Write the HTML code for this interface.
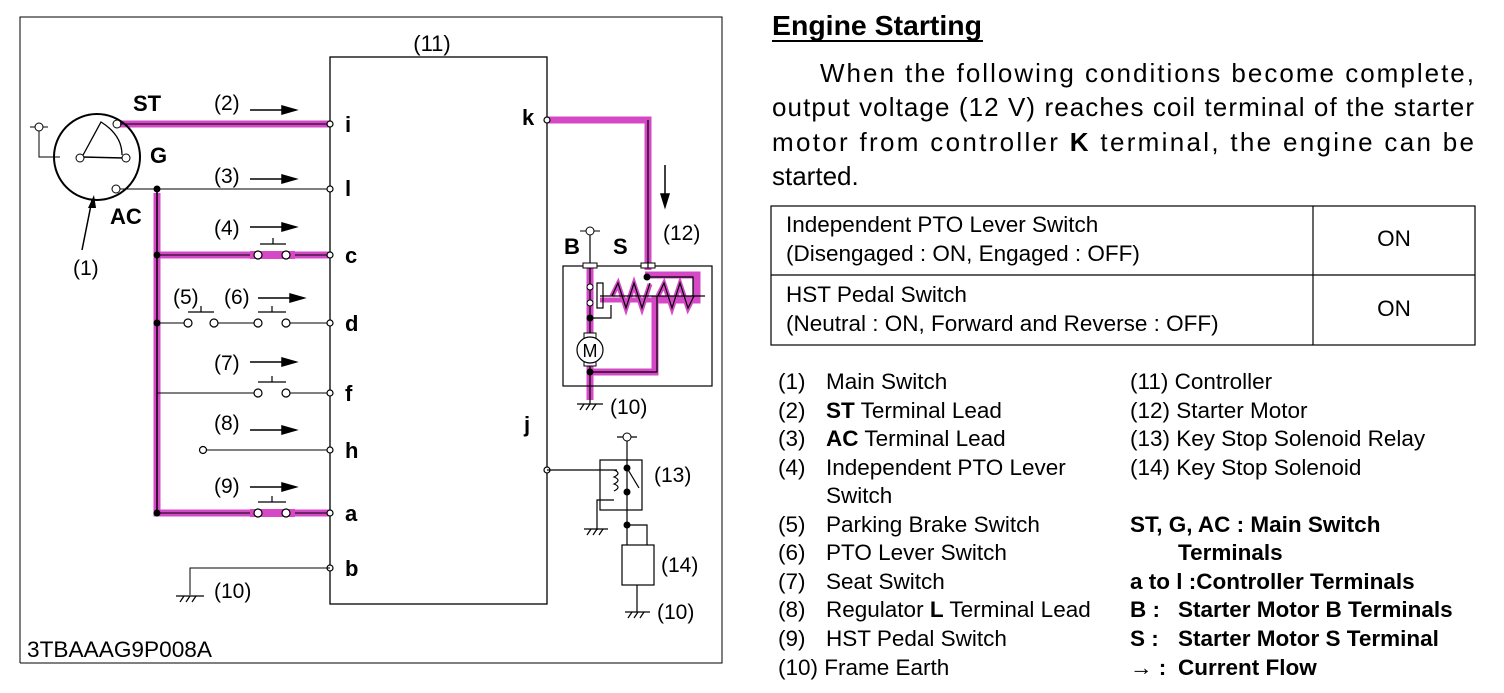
<!DOCTYPE html>
<html><head><meta charset="utf-8"><style>
body{margin:0;background:#fff;}
svg{display:block;font-family:"Liberation Sans",Arial,sans-serif;}
</style></head><body>
<svg width="1504" height="693" viewBox="0 0 1504 693" xmlns="http://www.w3.org/2000/svg">
<rect x="0" y="0" width="1504" height="693" fill="#fff"/>
<polyline points="20,663 20,17 722,17 722,663 20,663" fill="none" stroke="#000" stroke-width="1"/>
<g stroke="#d548c6" stroke-width="7" fill="none" stroke-linejoin="miter">
<polyline points="120,124 330,124"/>
<polyline points="157,193 157,513 330,513"/>
<polyline points="157,255 330,255"/>
<polyline points="547,120 648,120 648,270"/>
<polyline points="590,268 590,400"/>
<polyline points="645,275 697,275 697,300 655,300 655,372 592,372"/>
<polyline points="600,300 690,300" stroke-width="5"/>
</g>
<g fill="none" stroke="#d548c6" stroke-width="5">
<polyline points="612,296 618,284 626,308 634,284 642,308 650,284"/>
<polyline points="658,296 664,284 672,308 680,284 688,308 694,296"/>
</g>
<rect x="330" y="57" width="217" height="547" fill="none" stroke="#000" stroke-width="1.3"/>
<text x="432" y="51" font-size="22" text-anchor="middle">(11)</text>
<circle cx="97" cy="157" r="43" fill="none" stroke="#000" stroke-width="2"/>
<polyline points="39,127 39,157 60,157" fill="none" stroke="#000"/>
<line x1="30" y1="127" x2="48" y2="127" stroke="#000"/>
<circle cx="39" cy="127" r="4" fill="#fff" stroke="#000"/>
<path d="M82,157 L101,122 Q122,135 122,155" fill="none" stroke="#000" stroke-width="1.3"/>
<line x1="82" y1="157" x2="124" y2="158" stroke="#000" stroke-width="1.5"/>
<circle cx="80" cy="158" r="4" fill="#fff" stroke="#000"/>
<circle cx="126" cy="158" r="4" fill="#fff" stroke="#000"/>
<circle cx="117" cy="124" r="4" fill="#fff" stroke="#000"/>
<circle cx="116" cy="189" r="4" fill="#fff" stroke="#000"/>
<line x1="120" y1="124" x2="330" y2="124" stroke="#000"/>
<line x1="120" y1="189" x2="330" y2="189" stroke="#000"/>
<line x1="157" y1="189" x2="157" y2="513" stroke="#000" stroke-width="1.5"/>
<line x1="157" y1="255" x2="330" y2="255" stroke="#000"/>
<line x1="157" y1="323" x2="330" y2="323" stroke="#000"/>
<line x1="157" y1="393" x2="330" y2="393" stroke="#000"/>
<line x1="203" y1="450" x2="330" y2="450" stroke="#000"/>
<line x1="157" y1="513" x2="330" y2="513" stroke="#000"/>
<g fill="#000"><circle cx="157" cy="189" r="3.5"/><circle cx="157" cy="255" r="3.5"/><circle cx="157" cy="323" r="3.5"/><circle cx="157" cy="513" r="3.5"/></g>
<line x1="82" y1="250" x2="92" y2="200" stroke="#000" stroke-width="1.5"/>
<polygon points="94,195 88,208 96,208" fill="#000"/>
<g stroke="#000" fill="#fff" stroke-width="1.2">
<rect x="250" y="251" width="45" height="8" fill="#d548c6" stroke="none"/>
<rect x="250" y="509" width="45" height="8" fill="#d548c6" stroke="none"/>
<line x1="260" y1="244" x2="286" y2="244"/><line x1="273" y1="244" x2="273" y2="238"/>
<line x1="188" y1="312" x2="214" y2="312"/><line x1="201" y1="312" x2="201" y2="306"/>
<line x1="258" y1="312" x2="286" y2="312"/><line x1="272" y1="312" x2="272" y2="306"/>
<line x1="258" y1="382" x2="286" y2="382"/><line x1="272" y1="382" x2="272" y2="376"/>
<line x1="258" y1="502" x2="286" y2="502"/><line x1="272" y1="502" x2="272" y2="496"/>
<rect x="190" y="320" width="22" height="6" fill="#fff" stroke="none"/>
<rect x="260" y="320" width="24" height="6" fill="#fff" stroke="none"/>
<rect x="260" y="390" width="24" height="6" fill="#fff" stroke="none"/>
<circle cx="258" cy="255" r="4"/><circle cx="286" cy="255" r="4"/>
<circle cx="188" cy="323" r="4"/><circle cx="214" cy="323" r="4"/>
<circle cx="258" cy="323" r="4"/><circle cx="286" cy="323" r="4"/>
<circle cx="258" cy="393" r="4"/><circle cx="286" cy="393" r="4"/>
<circle cx="258" cy="513" r="4"/><circle cx="286" cy="513" r="4"/>
<circle cx="203" cy="450" r="3.5"/>
<circle cx="330" cy="124" r="3"/><circle cx="330" cy="189" r="3"/><circle cx="330" cy="255" r="3"/><circle cx="330" cy="323" r="3"/><circle cx="330" cy="393" r="3"/><circle cx="330" cy="450" r="3"/><circle cx="330" cy="513" r="3"/><circle cx="330" cy="568" r="3"/>
<circle cx="547" cy="120" r="3"/><circle cx="547" cy="470" r="3"/>
</g>
<g stroke="#000" stroke-width="1.5" fill="#000">
<line x1="250" y1="110" x2="285" y2="110"/><polygon points="296,110 282,106 282,114"/>
<line x1="250" y1="179" x2="285" y2="179"/><polygon points="296,179 282,175 282,183"/>
<line x1="250" y1="227" x2="285" y2="227"/><polygon points="296,227 282,223 282,231"/>
<line x1="258" y1="298" x2="293" y2="298"/><polygon points="304,298 290,294 290,302"/>
<line x1="250" y1="362" x2="285" y2="362"/><polygon points="296,362 282,358 282,366"/>
<line x1="250" y1="430" x2="285" y2="430"/><polygon points="296,430 282,426 282,434"/>
<line x1="250" y1="487" x2="285" y2="487"/><polygon points="296,487 282,483 282,491"/>
<line x1="665" y1="165" x2="665" y2="196"/><polygon points="665,207 661,194 669,194"/>
</g>
<g font-size="21">
<text x="214" y="110">(2)</text><text x="214" y="183">(3)</text><text x="214" y="235">(4)</text>
<text x="173" y="304">(5)</text><text x="224" y="304">(6)</text><text x="214" y="370">(7)</text>
<text x="214" y="430">(8)</text><text x="214" y="493">(9)</text><text x="73" y="275">(1)</text>
<text x="214" y="598">(10)</text><text x="610" y="414">(10)</text><text x="663" y="240">(12)</text>
<text x="654" y="482">(13)</text><text x="661" y="572">(14)</text><text x="657" y="619">(10)</text>
</g>
<text x="27" y="657" font-size="22" textLength="185" lengthAdjust="spacingAndGlyphs">3TBAAAG9P008A</text>
<g font-size="22" font-weight="bold">
<text x="133" y="111">ST</text><text x="150" y="163">G</text><text x="110" y="224">AC</text>
<text x="345" y="132">i</text><text x="345" y="196">l</text><text x="345" y="263">c</text><text x="345" y="331">d</text>
<text x="345" y="401">f</text><text x="345" y="458">h</text><text x="345" y="521">a</text><text x="345" y="576">b</text>
<text x="522" y="125">k</text><text x="524" y="432">j</text>
<text x="564" y="254">B</text><text x="613" y="254">S</text>
</g>
<polyline points="330,568 190,568 190,595" fill="none" stroke="#000"/>
<g stroke="#000" stroke-width="1.2">
<line x1="176" y1="596" x2="204" y2="596"/><line x1="180" y1="602" x2="184" y2="596"/><line x1="186" y1="602" x2="190" y2="596"/><line x1="192" y1="602" x2="196" y2="596"/>
<line x1="577" y1="404" x2="603" y2="404"/><line x1="580" y1="410" x2="584" y2="404"/><line x1="586" y1="410" x2="590" y2="404"/><line x1="592" y1="410" x2="596" y2="404"/>
<line x1="584" y1="529" x2="608" y2="529"/><line x1="587" y1="535" x2="591" y2="529"/><line x1="593" y1="535" x2="597" y2="529"/><line x1="599" y1="535" x2="603" y2="529"/>
<line x1="625" y1="612" x2="650" y2="612"/><line x1="628" y1="618" x2="632" y2="612"/><line x1="634" y1="618" x2="638" y2="612"/><line x1="640" y1="618" x2="644" y2="612"/>
</g>
<rect x="563" y="266" width="149" height="120" fill="none" stroke="#000" stroke-width="1.2"/>
<line x1="590" y1="231" x2="590" y2="404" stroke="#000" stroke-width="1.2"/>
<line x1="580" y1="231" x2="600" y2="231" stroke="#000"/>
<circle cx="590" cy="231" r="4" fill="#fff" stroke="#000"/>
<rect x="583" y="263" width="14" height="5" fill="#fff" stroke="#000"/>
<rect x="641" y="263" width="14" height="5" fill="#fff" stroke="#000"/>
<g fill="none" stroke="#000" stroke-width="1.2">
<polyline points="648,120 648,268"/>
<polyline points="647,277 693,277 693,296"/>
<line x1="600" y1="296" x2="705" y2="296"/>
<polyline points="612,296 618,283 626,308 634,283 642,308 650,283"/>
<polyline points="658,296 664,283 672,308 680,283 688,308 694,296"/>
<polyline points="657,296 657,372 592,372"/>
<rect x="597" y="283" width="6" height="25"/>
<polyline points="590,318 611,318 611,305"/>
</g>
<circle cx="590" cy="287" r="3" fill="#fff" stroke="#000"/>
<circle cx="590" cy="303" r="3" fill="#fff" stroke="#000"/>
<circle cx="590" cy="318" r="3.5" fill="#000"/>
<circle cx="647" cy="277" r="3.5" fill="#000"/>
<circle cx="590" cy="372" r="3.5" fill="#000"/>
<rect x="584" y="333" width="12" height="5" fill="#fff" stroke="#000"/>
<rect x="584" y="361" width="12" height="5" fill="#fff" stroke="#000"/>
<circle cx="590" cy="350" r="13" fill="#fff" stroke="#000" stroke-width="1.2"/>
<text x="590" y="357" font-size="18" text-anchor="middle">M</text>
<g fill="none" stroke="#000" stroke-width="1.2">
<polyline points="547,470 617,470"/>
<rect x="600" y="460" width="42" height="50"/>
<line x1="627" y1="437" x2="627" y2="545"/>
<line x1="617" y1="437" x2="637" y2="437"/>
<polyline points="597,530 597,500 614,500"/>
<path d="M614,470 q8,3 0,7 q8,3 0,7 q8,3 0,7"/>
<line x1="627" y1="468" x2="639" y2="488"/>
<polyline points="627,525 647,525 647,545"/>
<rect x="622" y="545" width="32" height="40"/>
<line x1="637" y1="585" x2="637" y2="612"/>
</g>
<circle cx="627" cy="437" r="4" fill="#fff" stroke="#000"/>
<circle cx="627" cy="468" r="3.5" fill="#000"/><circle cx="627" cy="492" r="3.5" fill="#000"/><circle cx="627" cy="525" r="3.5" fill="#000"/>
<text x="772" y="35" font-size="28" font-weight="bold" textLength="210" lengthAdjust="spacingAndGlyphs">Engine Starting</text>
<line x1="772" y1="41" x2="983" y2="41" stroke="#000" stroke-width="2"/>
<g font-size="26">
<text x="820" y="82" textLength="654" lengthAdjust="spacing">When the following conditions become complete,</text>
<text x="772" y="116" textLength="702" lengthAdjust="spacing">output voltage (12 V) reaches coil terminal of the starter</text>
<text x="772" y="151" textLength="702" lengthAdjust="spacing">motor from controller <tspan font-weight="bold">K</tspan> terminal, the engine can be</text>
<text x="772" y="185">started.</text>
</g>
<g fill="none" stroke="#000" stroke-width="1.2">
<rect x="771" y="206" width="704" height="139"/>
<line x1="771" y1="275" x2="1475" y2="275"/>
<line x1="1313" y1="206" x2="1313" y2="345"/>
</g>
<g font-size="22.5">
<text x="786" y="232">Independent PTO Lever Switch</text>
<text x="786" y="261">(Disengaged : ON, Engaged : OFF)</text>
<text x="786" y="302">HST Pedal Switch</text>
<text x="786" y="331">(Neutral : ON, Forward and Reverse : OFF)</text>
<text x="1394" y="246" text-anchor="middle">ON</text>
<text x="1394" y="316" text-anchor="middle">ON</text>
</g>
<g font-size="22.5">
<text x="778" y="389">(1)</text><text x="826" y="389">Main Switch</text>
<text x="778" y="418">(2)</text><text x="826" y="418"><tspan font-weight="bold">ST</tspan> Terminal Lead</text>
<text x="778" y="446">(3)</text><text x="826" y="446"><tspan font-weight="bold">AC</tspan> Terminal Lead</text>
<text x="778" y="475">(4)</text><text x="826" y="475">Independent PTO Lever</text>
<text x="826" y="503">Switch</text>
<text x="778" y="532">(5)</text><text x="826" y="532">Parking Brake Switch</text>
<text x="778" y="560">(6)</text><text x="826" y="560">PTO Lever Switch</text>
<text x="778" y="589">(7)</text><text x="826" y="589">Seat Switch</text>
<text x="778" y="617">(8)</text><text x="826" y="617">Regulator <tspan font-weight="bold">L</tspan> Terminal Lead</text>
<text x="778" y="646">(9)</text><text x="826" y="646">HST Pedal Switch</text>
<text x="778" y="675">(10) Frame Earth</text>
<text x="1130" y="389">(11) Controller</text>
<text x="1130" y="418">(12) Starter Motor</text>
<text x="1130" y="446">(13) Key Stop Solenoid Relay</text>
<text x="1130" y="475">(14) Key Stop Solenoid</text>
</g>
<g font-size="22.5" font-weight="bold">
<text x="1130" y="532">ST, G, AC : Main Switch</text>
<text x="1178" y="560">Terminals</text>
<text x="1130" y="589">a to l :Controller Terminals</text>
<text x="1130" y="617">B :</text><text x="1178" y="617">Starter Motor B Terminals</text>
<text x="1130" y="646">S :</text><text x="1178" y="646">Starter Motor S Terminal</text>
<text x="1130" y="675">→ :</text><text x="1178" y="675">Current Flow</text>
</g>
</svg>
</body></html>
